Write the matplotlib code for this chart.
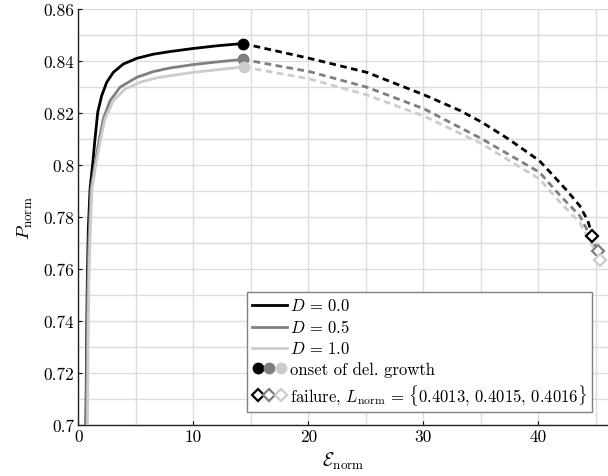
import numpy as np
import matplotlib
matplotlib.use("Agg")
import matplotlib.pyplot as plt
from matplotlib.legend_handler import HandlerTuple
from matplotlib.ticker import MultipleLocator, FuncFormatter

plt.rcParams['font.family'] = 'serif'
plt.rcParams['font.serif'] = ['cmr10', 'DejaVu Serif']
plt.rcParams['mathtext.fontset'] = 'cm'
plt.rcParams['axes.formatter.use_mathtext'] = True

# ---- data ----
labels = [r'$D\,=\,0.0$', r'$D\,=\,0.5$', r'$D\,=\,1.0$']
colors = ['#000000', '#7f7f7f', '#cccccc']

# pre-onset (solid) branches
x_solid_0 = [0.64, 0.66, 0.72, 0.78, 0.87, 1.02, 1.25, 1.45, 1.69, 2.03, 2.47, 3.04, 3.91, 5.08, 6.52, 7.97, 10.0, 12.0, 14.3]
y_solid_0 = [0.690, 0.700, 0.730, 0.755, 0.775, 0.7907, 0.8003, 0.8099, 0.8202, 0.8265, 0.8317, 0.8355, 0.8387, 0.8409, 0.8425, 0.8435, 0.8447, 0.8457, 0.8466]
x_solid_1 = [0.66, 0.68, 0.75, 0.83, 0.93, 1.10, 1.45, 1.83, 2.17, 2.76, 3.63, 5.08, 6.52, 7.97, 10.0, 12.0, 14.3]
y_solid_1 = [0.690, 0.700, 0.730, 0.755, 0.772, 0.7907, 0.8003, 0.8099, 0.8176, 0.8246, 0.8298, 0.8336, 0.8358, 0.8372, 0.8385, 0.8395, 0.8405]
x_solid_2 = [0.78, 0.80, 0.85, 0.92, 1.02, 1.19, 1.54, 1.95, 2.32, 3.04, 4.06, 5.37, 6.82, 7.97, 10.0, 12.0, 14.4]
y_solid_2 = [0.690, 0.700, 0.730, 0.755, 0.772, 0.7907, 0.8003, 0.8099, 0.8176, 0.8246, 0.8291, 0.8317, 0.8334, 0.8342, 0.8355, 0.8365, 0.8376]

# post-onset (dashed) branches
x_dash_0 = [14.3, 20.1, 25.1, 30.1, 33.2, 35.1, 37.4, 40.1, 41.3, 42.5, 43.6, 44.3, 44.7]
y_dash_0 = [0.8466, 0.8409, 0.8355, 0.8268, 0.8208, 0.8163, 0.8099, 0.8015, 0.7958, 0.7900, 0.7842, 0.7785, 0.7727]
x_dash_1 = [14.3, 20.1, 25.1, 30.1, 35.1, 40.1, 41.9, 43.6, 45.2]
y_dash_1 = [0.8405, 0.8358, 0.8298, 0.8214, 0.8099, 0.7971, 0.7881, 0.7804, 0.7667]
x_dash_2 = [14.4, 20.1, 25.1, 30.1, 35.1, 40.1, 41.9, 43.6, 45.4]
y_dash_2 = [0.8376, 0.8330, 0.8268, 0.8186, 0.8080, 0.7945, 0.7855, 0.7778, 0.7632]

x_ticks = [0, 10, 20, 30, 40]
y_ticks = [0.70, 0.72, 0.74, 0.76, 0.78, 0.80, 0.82, 0.84, 0.86]

solids = [(x_solid_0, y_solid_0), (x_solid_1, y_solid_1), (x_solid_2, y_solid_2)]
dashes = [(x_dash_0, y_dash_0), (x_dash_1, y_dash_1), (x_dash_2, y_dash_2)]

fig = plt.figure(figsize=(6.08, 4.77), dpi=100)
ax = fig.add_axes([0.1288, 0.1075, 0.8712, 0.8722])

lw = 2.0
line_handles, onset_handles, fail_handles = [], [], []
for (xs, ys), (xd, yd), c in zip(solids, dashes, colors):
    h, = ax.plot(xs, ys, color=c, lw=lw, zorder=3, solid_joinstyle='round')
    ax.plot(xd, yd, color=c, lw=lw, ls=(0, (2.4, 1.6)), zorder=3)
    line_handles.append(h)

for (xs, ys), (xd, yd), c in zip(solids, dashes, colors):
    o, = ax.plot([xs[-1]], [ys[-1]], 'o', color=c, ms=7.5, mec=c, zorder=5)
    f, = ax.plot([xd[-1]], [yd[-1]], 'D', color=c, ms=6.5, mfc='white', mec=c, mew=1.6, zorder=5)
    onset_handles.append(o)
    fail_handles.append(f)

ax.set_xlim(0, 46.06)
ax.set_ylim(0.70, 0.86)
ax.set_xticks(x_ticks)
ax.set_yticks(y_ticks)
ax.xaxis.set_minor_locator(MultipleLocator(5))
ax.yaxis.set_minor_locator(MultipleLocator(0.01))
ax.yaxis.set_major_formatter(FuncFormatter(lambda v, p: '%g' % round(v, 2)))
ax.xaxis.set_major_formatter(FuncFormatter(lambda v, p: '%g' % v))
ax.grid(True, which='both', color='#dcdcdc', lw=1.0, zorder=0)
ax.set_axisbelow(True)
for s in ['top', 'right']:
    ax.spines[s].set_visible(False)
for s in ['left', 'bottom']:
    ax.spines[s].set_linewidth(1.0)
    ax.spines[s].set_color('#222222')
ax.tick_params(which='major', direction='in', length=3, width=0.8, labelsize=12.5, pad=3)
ax.tick_params(which='minor', length=0)

ax.set_xlabel(r'$\mathcal{E}_{\mathrm{norm}}$', fontsize=13.5, labelpad=4)
ax.set_ylabel(r'$P_{\mathrm{norm}}$', fontsize=13.5, labelpad=6)

handles = line_handles + [tuple(onset_handles), tuple(fail_handles)]
leg_labels = labels + ['onset of del. growth',
                       r'failure, $L_{\mathrm{norm}}\,=\,\{0.4013,\,0.4015,\,0.4016\}$']
leg = ax.legend(handles, leg_labels, loc='lower right', bbox_to_anchor=(0.970, 0.030),
                fontsize=12, handlelength=2.1, handletextpad=0.2, labelspacing=0.3,
                borderpad=0.3, borderaxespad=0.0, fancybox=False, framealpha=1.0,
                edgecolor='#808080',
                handler_map={tuple: HandlerTuple(ndivide=None, pad=0.0)})
leg.get_frame().set_linewidth(1.0)

fig.savefig('out.png', dpi=100)
